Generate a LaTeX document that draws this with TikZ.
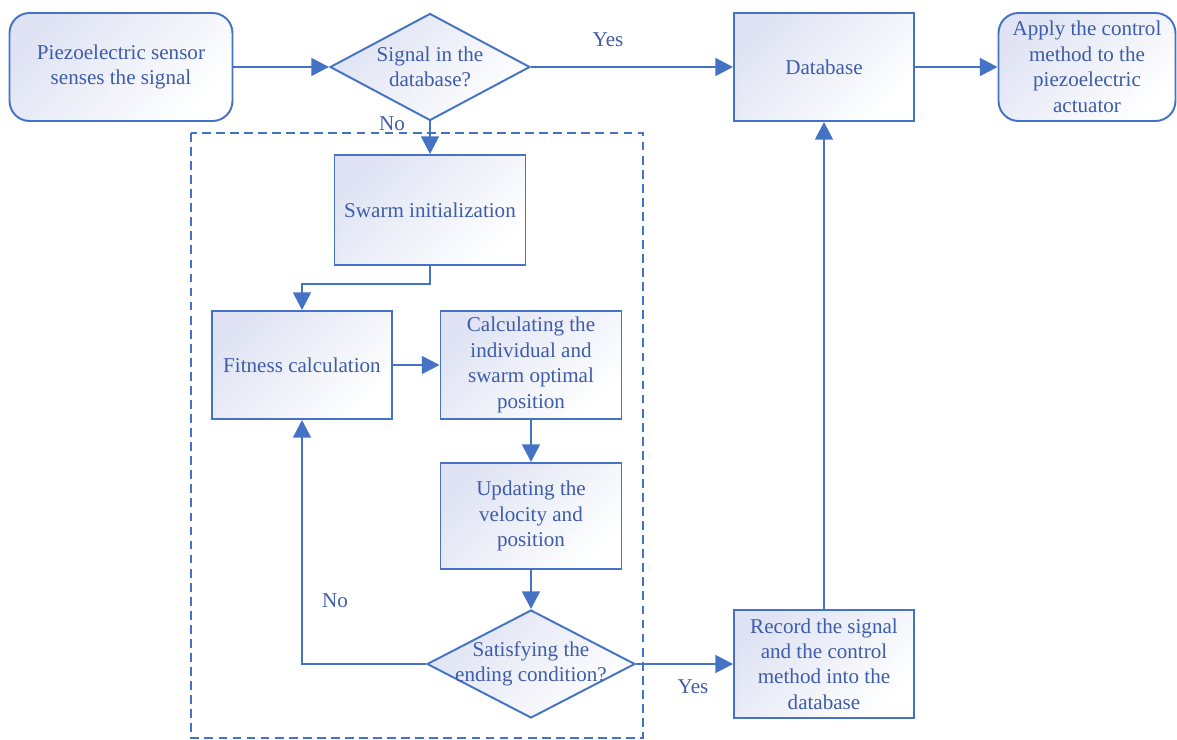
\documentclass[tikz,border=0pt]{standalone}
\usepackage{fontspec}
\setmainfont{Liberation Serif}
\usetikzlibrary{arrows.meta,shapes.geometric}

\definecolor{lineblue}{HTML}{4472C4}
\definecolor{txtblue}{HTML}{3D5CAA}
\definecolor{fillblue}{HTML}{DFE3F3}

\begin{document}
\begin{tikzpicture}[x=0.02cm, y=-0.02cm,
    every node/.style={font=\fontsize{12}{14.5}\selectfont, text=txtblue},
    box/.style={draw=lineblue, line width=1.1pt, shade, top color=fillblue, bottom color=white,
      shading angle=45, align=center, minimum width=3.6cm, minimum height=2.16cm, inner sep=2pt},
    rbox/.style={box, rounded corners=0.4cm},
    decision/.style={diamond, draw=lineblue, line width=1.1pt, shade, top color=fillblue,
      bottom color=white, shading angle=45, inner sep=0pt},
    arr/.style={draw=lineblue, line width=1.5pt, -{Triangle[length=10pt,width=10pt]}}
  ]
  \useasboundingbox (0,0) rectangle (1177,740);

  % dashed frame round the swarm search
  \draw[lineblue, line width=0.7pt, dash pattern=on 5pt off 3pt] (191,133) rectangle (643,738);

  \node[rbox, minimum width=4.46cm] (sensor) at (121,67) {Piezoelectric sensor\\senses the signal};
  \node[decision, minimum width=4cm, minimum height=2.14cm,
    label={[align=center]center:Signal in the\\database?}] (inbase) at (430,67) {};
  \node[box] (base) at (824,67) {Database};
  \node[rbox, minimum width=3.54cm] (apply) at (1087,67) {Apply the control\\method to the\\piezoelectric\\actuator};

  \node[box, minimum width=3.82cm, minimum height=2.2cm] (init) at (430,210) {Swarm initialization};
  \node[box] (fit) at (302,365) {Fitness calculation};
  \node[box, minimum width=3.62cm] (best) at (531,365) {Calculating the\\individual and\\swarm optimal\\position};
  \node[box, minimum width=3.62cm, minimum height=2.12cm] (update) at (531,516) {Updating the\\velocity and\\position};
  \node[decision, minimum width=4.16cm, minimum height=2.16cm,
    label={[align=center]center:Satisfying the\\ending condition?}] (stop) at (531,664) {};
  \node[box] (record) at (824,664) {Record the signal\\and the control\\method into the\\database};

  \draw[arr] (sensor) -- (inbase);
  \draw[arr] (inbase) -- (base);
  \draw[arr] (base) -- (apply);
  \draw[arr] (inbase.south) -- (init.north);
  \draw[arr] (init.south) -- ++(0,18) -| (fit.north);
  \draw[arr] (fit) -- (best);
  \draw[arr] (best) -- (update);
  \draw[arr] (update) -- (stop.north);
  \draw[arr] (stop.west) -| (fit.south);
  \draw[arr] (stop.east) -- (record);
  \draw[arr] (record) -- (base);

  \node at (608,40) {Yes};
  \node at (392,124) {No};
  \node at (335,601) {No};
  \node at (693,687) {Yes};
\end{tikzpicture}
\end{document}
